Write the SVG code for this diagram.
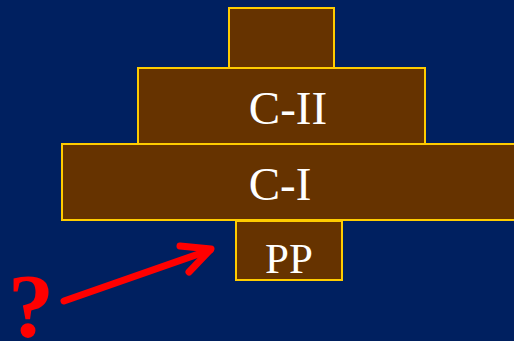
<svg xmlns="http://www.w3.org/2000/svg" width="514" height="341" viewBox="0 0 514 341">
<style>
.box{fill:#663300;stroke:#FFCC00;stroke-width:2}
.lbl{font-family:"Liberation Serif",serif;fill:#FFFFFF;text-anchor:middle}
</style>
<rect x="0" y="0" width="514" height="341" fill="#002060"/>
<g id="top"><rect class="box" x="229" y="8" width="105" height="60"/></g>
<g id="c2"><rect class="box" x="138" y="68" width="287" height="76"/><text class="lbl" x="288" y="124" font-size="47">C-II</text></g>
<g id="c1"><rect class="box" x="62" y="144" width="460" height="76"/><text class="lbl" x="280" y="200" font-size="47">C-I</text></g>
<g id="pp"><rect class="box" x="236" y="221" width="106" height="59"/><text class="lbl" x="289" y="273" font-size="43">PP</text></g>
<g id="connectors" fill="none" stroke="#FF0000" stroke-width="7" stroke-linecap="round" stroke-linejoin="round">
<line x1="64" y1="301" x2="210" y2="250"/>
<polyline points="180,246 211,249 189,272"/>
</g>
<text x="31" y="337" font-family="Liberation Serif,serif" font-weight="bold" font-size="92" fill="#FF0000" text-anchor="middle">?</text>
</svg>
